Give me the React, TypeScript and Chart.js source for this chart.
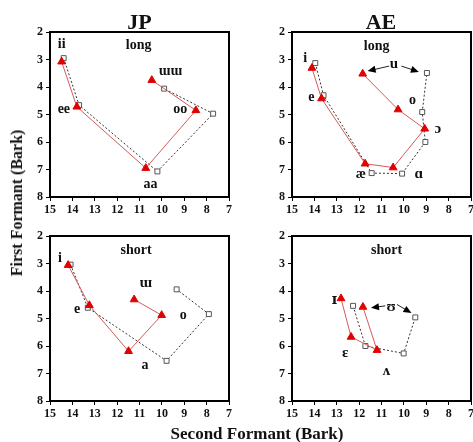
import React, { useEffect, useRef } from 'react';
import { Chart, registerables } from 'chart.js';

Chart.register(...registerables);

const FONT = '"Liberation Serif", "DejaVu Serif", "Times New Roman", serif';
const FONT_IPA = '"DejaVu Serif", "Liberation Serif", serif';

// Axis ranges / ticks (Bark)
const xMin = 7;
const xMax = 15;
const yMin = 2;
const yMax = 8;

// ---- JP long: ii, ee, aa, oo, ɯɯ
const jpLongTriF2 = [14.48, 13.8, 10.72, 8.48, 10.45];
const jpLongTriF1 = [3.08, 4.72, 6.95, 4.85, 3.75];
const jpLongSqF2 = [14.39, 13.7, 10.2, 7.71, 9.9];
const jpLongSqF1 = [2.95, 4.66, 7.07, 4.97, 4.06];
const jpLongLabels: [string, number, number, number][] = [
  ['ii', 14.48, 2.45, 14],
  ['long', 11.04, 2.48, 14],
  ['ɯɯ', 9.62, 3.45, 14],
  ['ee', 14.38, 4.82, 14],
  ['oo', 9.18, 4.82, 14],
  ['aa', 10.51, 7.55, 14],
];

// ---- AE long: i, e, æ, ɑ, ɔ, o, u
const aeLongTriF2 = [14.11, 13.68, 11.73, 10.48, 9.07, 10.26, 11.84];
const aeLongTriF1 = [3.31, 4.42, 6.79, 6.93, 5.52, 4.82, 3.52];
const aeLongSqF2 = [13.96, 13.59, 11.44, 10.08, 9.04, 9.18, 8.97];
const aeLongSqF1 = [3.13, 4.3, 7.13, 7.15, 6.0, 4.91, 3.49];
const aeLongLabels: [string, number, number, number][] = [
  ['i', 14.41, 2.97, 14],
  ['long', 11.22, 2.51, 14],
  ['u', 10.44, 3.17, 15],
  ['e', 14.14, 4.36, 14],
  ['o', 9.62, 4.48, 14],
  ['ɔ', 8.48, 5.52, 15],
  ['æ', 11.92, 7.18, 14],
  ['ɑ', 9.33, 7.18, 15],
];
const aeLongArrows: [number, number, number, number][] = [
  [10.66, 3.24, 11.62, 3.42],
  [10.11, 3.24, 9.33, 3.45],
];

// ---- JP short: i, e, a, o, ɯ
const jpShortTriF2 = [14.19, 13.24, 11.49, 10.01, 11.24];
const jpShortTriF1 = [3.06, 4.52, 6.19, 4.88, 4.31];
const jpShortSqF2 = [14.08, 13.31, 9.79, 7.9, 9.34];
const jpShortSqF1 = [3.04, 4.61, 6.54, 4.84, 3.94];
const jpShortLabels: [string, number, number, number][] = [
  ['short', 11.15, 2.54, 14],
  ['i', 14.56, 2.82, 14],
  ['ɯ', 10.72, 3.73, 15],
  ['e', 13.79, 4.66, 14],
  ['o', 9.04, 4.88, 14],
  ['a', 10.75, 6.69, 14],
];

// ---- AE short: ɪ, ɛ, ʌ, ʊ
const aeShortTriF2 = [12.81, 12.36, 11.2, 11.83];
const aeShortTriF1 = [4.27, 5.67, 6.15, 4.58];
const aeShortSqF2 = [12.27, 11.72, 10.01, 9.49];
const aeShortSqF1 = [4.54, 6.0, 6.27, 4.96];
const aeShortLabels: [string, number, number, number][] = [
  ['short', 10.77, 2.54, 14],
  ['ɪ', 13.1, 4.33, 14],
  ['ʊ', 10.57, 4.58, 15],
  ['ɛ', 12.62, 6.27, 15],
  ['ʌ', 10.78, 6.91, 15],
];
const aeShortArrows: [number, number, number, number][] = [
  [10.83, 4.54, 11.47, 4.61],
  [10.31, 4.49, 9.66, 4.8],
];

type PanelProps = {
  left: number;
  top: number;
  triF2: number[];
  triF1: number[];
  sqF2: number[];
  sqF1: number[];
  labels: [string, number, number, number][];
  arrows?: [number, number, number, number][];
};

const CW = 240;
const CH = 210;

function Panel(p: PanelProps) {
  const ref = useRef<HTMLCanvasElement | null>(null);
  useEffect(() => {
    if (!ref.current) return;
    const pts = (xs: number[], ys: number[]) => xs.map((v, i) => ({ x: v, y: ys[i] }));
    const annot = {
      id: 'annot',
      afterDatasetsDraw(chart: any) {
        const { ctx, chartArea: a, scales } = chart;
        const xs = scales.x;
        const ys = scales.y;
        ctx.save();
        ctx.strokeStyle = '#000';
        ctx.lineWidth = 2;
        ctx.strokeRect(a.left, a.top, a.right - a.left, a.bottom - a.top);
        ctx.fillStyle = '#111';
        ctx.textAlign = 'center';
        ctx.textBaseline = 'middle';
        for (const [t, vx, vy, s] of p.labels) {
          ctx.font = `bold ${s}px ${t === 'ɪ' ? FONT_IPA : FONT}`;
          ctx.fillText(t, xs.getPixelForValue(vx), ys.getPixelForValue(vy));
        }
        for (const [x0, y0, x1, y1] of p.arrows || []) {
          const px0 = xs.getPixelForValue(x0);
          const py0 = ys.getPixelForValue(y0);
          const px1 = xs.getPixelForValue(x1);
          const py1 = ys.getPixelForValue(y1);
          const ang = Math.atan2(py1 - py0, px1 - px0);
          const L = 8;
          const W = 3.5;
          ctx.strokeStyle = '#222';
          ctx.lineWidth = 1;
          ctx.beginPath();
          ctx.moveTo(px0, py0);
          ctx.lineTo(px1 - Math.cos(ang) * L * 0.8, py1 - Math.sin(ang) * L * 0.8);
          ctx.stroke();
          ctx.fillStyle = '#000';
          ctx.beginPath();
          ctx.moveTo(px1, py1);
          ctx.lineTo(px1 - Math.cos(ang) * L - Math.sin(ang) * W, py1 - Math.sin(ang) * L + Math.cos(ang) * W);
          ctx.lineTo(px1 - Math.cos(ang) * L + Math.sin(ang) * W, py1 - Math.sin(ang) * L - Math.cos(ang) * W);
          ctx.closePath();
          ctx.fill();
        }
        ctx.restore();
      },
    };
    const tickFont = { family: FONT, size: 12, weight: 'bold' as const };
    const chart = new Chart(ref.current, {
      type: 'scatter',
      data: {
        datasets: [
          {
            data: pts(p.triF2, p.triF1),
            showLine: true,
            borderColor: '#d45a5a',
            borderWidth: 1,
            pointStyle: 'triangle',
            pointRadius: 4.5,
            pointBackgroundColor: '#e00000',
            pointBorderColor: '#e00000',
            pointBorderWidth: 1,
          },
          {
            data: pts(p.sqF2, p.sqF1),
            showLine: true,
            borderColor: '#333',
            borderWidth: 1,
            borderDash: [2, 2],
            pointStyle: 'rect',
            pointRadius: 3.5,
            pointBackgroundColor: '#fff',
            pointBorderColor: '#555',
            pointBorderWidth: 1,
          },
        ],
      },
      options: {
        responsive: false,
        animation: false,
        layout: { padding: { left: 10, top: 12, right: 21, bottom: 13 } },
        plugins: { legend: { display: false }, tooltip: { enabled: false }, title: { display: false } },
        scales: {
          x: {
            type: 'linear',
            reverse: true,
            min: xMin,
            max: xMax,
            afterFit: (s: any) => {
              s.height = 20;
            },
            ticks: { stepSize: 1, color: '#111', font: tickFont, padding: 2, maxRotation: 0 },
            grid: { display: true, drawOnChartArea: false, drawTicks: true, tickLength: 4, color: '#000' },
            border: { display: true, color: '#000', width: 2 },
          },
          y: {
            type: 'linear',
            reverse: true,
            min: yMin,
            max: yMax,
            afterFit: (s: any) => {
              s.width = 30;
            },
            ticks: { stepSize: 1, color: '#111', font: tickFont, padding: 3 },
            grid: { display: true, drawOnChartArea: false, drawTicks: true, tickLength: 4, color: '#000' },
            border: { display: true, color: '#000', width: 2 },
          },
        },
      },
      plugins: [annot],
    });
    return () => chart.destroy();
  }, []);
  return (
    <canvas
      ref={ref}
      width={CW}
      height={CH}
      style={{ position: 'absolute', left: p.left, top: p.top, width: CW, height: CH }}
    />
  );
}

const textBase: React.CSSProperties = {
  position: 'absolute',
  fontFamily: FONT,
  fontWeight: 'bold',
  color: '#111',
  whiteSpace: 'nowrap',
};

export default function App() {
  return (
    <div
      style={{
        position: 'fixed',
        left: 0,
        top: 0,
        width: 473,
        height: 442,
        overflow: 'hidden',
        background: '#fff',
      }}
    >
      <Panel left={10} top={20} triF2={jpLongTriF2} triF1={jpLongTriF1} sqF2={jpLongSqF2} sqF1={jpLongSqF1} labels={jpLongLabels} />
      <Panel left={252} top={20} triF2={aeLongTriF2} triF1={aeLongTriF1} sqF2={aeLongSqF2} sqF1={aeLongSqF1} labels={aeLongLabels} arrows={aeLongArrows} />
      <Panel left={10} top={224} triF2={jpShortTriF2} triF1={jpShortTriF1} sqF2={jpShortSqF2} sqF1={jpShortSqF1} labels={jpShortLabels} />
      <Panel left={252} top={224} triF2={aeShortTriF2} triF1={aeShortTriF1} sqF2={aeShortSqF2} sqF1={aeShortSqF1} labels={aeShortLabels} arrows={aeShortArrows} />
      <div style={{ ...textBase, left: 139.5, top: 11, fontSize: 22, lineHeight: '22px', transform: 'translateX(-50%)' }}>JP</div>
      <div style={{ ...textBase, left: 381, top: 11, fontSize: 22, lineHeight: '22px', transform: 'translateX(-50%)' }}>AE</div>
      <div
        style={{
          ...textBase,
          left: 16.7,
          top: 203,
          fontSize: 16,
          lineHeight: '16px',
          transform: 'translate(-50%, -50%) rotate(-90deg)',
        }}
      >
        First Formant (Bark)
      </div>
      <div style={{ ...textBase, left: 257, top: 425, fontSize: 17, lineHeight: '17px', transform: 'translateX(-50%)' }}>
        Second Formant (Bark)
      </div>
    </div>
  );
}
